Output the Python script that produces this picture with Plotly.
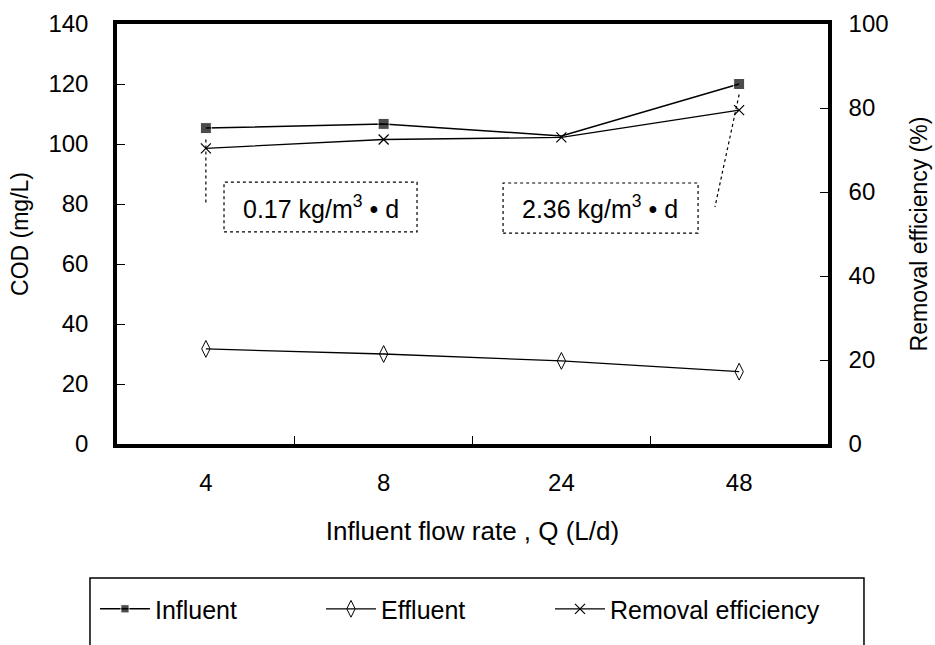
import plotly.graph_objects as go

categories = ["4", "8", "24", "48"]
influent = [105.3, 106.7, 102.7, 120.0]
effluent = [31.7, 30.0, 27.7, 24.1]
removal = [70.4, 72.5, 73.0, 79.5]
left_ticks = [0, 20, 40, 60, 80, 100, 120, 140]
right_ticks = [0, 20, 40, 60, 80, 100]
load_labels = ["0.17 kg/m<sup>3</sup> • d", "2.36 kg/m<sup>3</sup> • d"]

FONT = "Liberation Sans, Arial, sans-serif"

fig = go.Figure()
fig.add_trace(go.Scatter(
    x=categories, y=influent, name="Influent", mode="lines+markers", legend="legend",
    line=dict(color="black", width=1.5),
    marker=dict(symbol="square", size=[11, 11, 0, 11], color="black"),
))
fig.add_trace(go.Scatter(
    x=categories, y=effluent, name="Effluent", mode="lines+markers", legend="legend2",
    line=dict(color="black", width=1.3),
    marker=dict(symbol="diamond-tall-open", size=12, color="black", line=dict(width=1)),
))
fig.add_trace(go.Scatter(
    x=categories, y=removal, name="Removal efficiency", mode="lines+markers", legend="legend3",
    yaxis="y2",
    line=dict(color="black", width=1.3),
    marker=dict(symbol="x-thin-open", size=10, color="black", line=dict(width=1.2, color="black")),
))

DASH = "3px,3px"
shapes = []
for (x0, x1, y0, y1) in [(0.102, 1.188, 70.7, 87.3), (1.672, 2.769, 70.3, 87.0)]:
    shapes.append(dict(type="rect", xref="x", yref="y", x0=x0, x1=x1, y0=y0, y1=y1,
                       line=dict(color="black", width=1.2, dash=DASH), fillcolor="rgba(0,0,0,0)"))
shapes.append(dict(type="line", xref="x", yref="y", x0=0.0, x1=0.0, y0=101.5, y1=80.3,
                   line=dict(color="black", width=1.2, dash=DASH)))
shapes.append(dict(type="line", xref="x", yref="y", x0=3.0, x1=2.864, y0=116.5, y1=79.0,
                   line=dict(color="black", width=1.2, dash=DASH)))
shapes.append(dict(type="rect", xref="paper", yref="paper", x0=-0.038, x1=1.0506, y0=-0.319, y1=-0.7,
                   line=dict(color="black", width=1.5), fillcolor="rgba(0,0,0,0)"))

annotations = []
for cx, lab in [(0.645, load_labels[0]), (2.22, load_labels[1])]:
    annotations.append(dict(x=cx, y=79.0, xref="x", yref="y", text=lab, showarrow=False,
                            font=dict(family=FONT, size=25, color="black"),
                            xanchor="center", yanchor="middle"))

def leg(x):
    return dict(orientation="h", x=x, xanchor="left", y=-0.393, yanchor="middle",
                font=dict(family=FONT, size=25, color="black"), itemwidth=50,
                bgcolor="rgba(0,0,0,0)", borderwidth=0)

fig.update_layout(
    width=935, height=645,
    margin=dict(l=117, r=107, t=24, b=201, autoexpand=False),
    paper_bgcolor="white", plot_bgcolor="white",
    font=dict(family=FONT, size=24, color="black"),
    showlegend=True,
    legend=leg(-0.031), legend2=leg(0.2869), legend3=leg(0.609),
    xaxis=dict(type="category", categoryorder="array", categoryarray=categories,
               range=[-0.5, 3.5], automargin=False,
               showline=True, linecolor="black", linewidth=3.5, mirror=True,
               ticks="inside", ticklen=8, tickwidth=1, tickcolor="black",
               tickson="boundaries", showgrid=False, zeroline=False,
               tickfont=dict(size=24), ticklabelstandoff=14,
               title=dict(text="Influent flow rate , Q (L/d)", font=dict(size=26), standoff=28)),
    yaxis=dict(range=[0, 140], tickvals=left_ticks, showline=True, linecolor="black",
               linewidth=3.5, mirror=True, ticks="inside", ticklen=8, tickwidth=1,
               tickcolor="black", showgrid=False, zeroline=False, automargin=False,
               tickfont=dict(size=24), ticklabelstandoff=20,
               title=dict(text="COD (mg/L)", font=dict(size=23), standoff=14)),
    yaxis2=dict(range=[0, 100], tickvals=right_ticks, overlaying="y", side="right",
                showline=True, linecolor="black", linewidth=3.5, automargin=False,
                ticks="inside", ticklen=8, tickwidth=1, tickcolor="black",
                showgrid=False, zeroline=False, tickfont=dict(size=24), ticklabelstandoff=12,
                title=dict(text="Removal efficiency (%)", font=dict(size=23), standoff=24)),
    shapes=shapes, annotations=annotations,
)

fig.write_html("out.html", config={"displayModeBar": False},
               post_script="document.body.style.margin='0';")
